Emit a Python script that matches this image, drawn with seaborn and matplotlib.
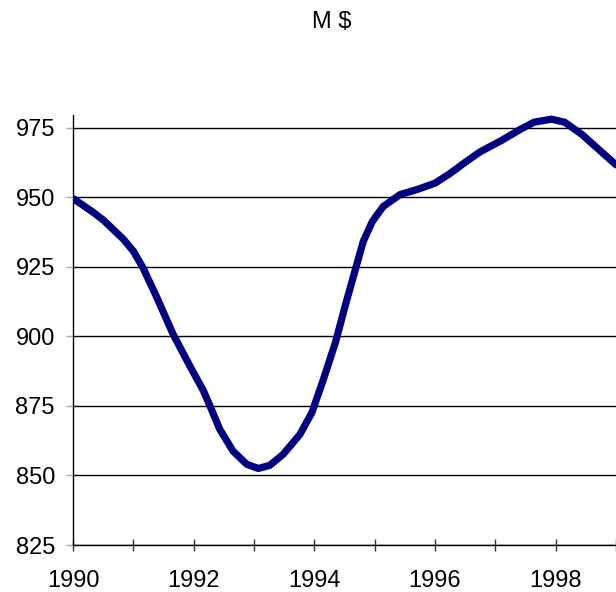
import matplotlib
matplotlib.use("Agg")
import matplotlib.pyplot as plt
import seaborn as sns
import pandas as pd

# points
years = [1990.0, 1990.17, 1990.33, 1990.5, 1990.66, 1990.83, 1991.0, 1991.16,
         1991.38, 1991.66, 1991.94, 1992.16, 1992.27, 1992.43, 1992.65, 1992.88,
         1993.07, 1993.26, 1993.48, 1993.76, 1993.96, 1994.15, 1994.35, 1994.51,
         1994.68, 1994.81, 1994.96, 1995.14, 1995.42, 1995.7, 1996.0, 1996.25,
         1996.5, 1996.75, 1997.09, 1997.42, 1997.64, 1997.93, 1998.15, 1998.43,
         1998.71, 1999.0]
values = [949.5, 947, 944.6, 941.8, 938.5, 935, 930.6, 924.6,
          914.4, 900.7, 889.2, 880.5, 875, 866.7, 858.8, 854,
          852.5, 853.6, 857.5, 864.7, 872.6, 884.5, 897.8, 910.8,
          924, 934, 941.2, 946.6, 950.9, 952.7, 955, 958.5,
          962.5, 966.3, 970.2, 974.4, 976.9, 978, 976.9, 972.6,
          967.2, 961.6]
year_ticks = list(range(1990, 2000))
year_labels = [str(y) if y % 2 == 0 else '' for y in year_ticks]
value_ticks = [825, 850, 875, 900, 925, 950, 975]

df = pd.DataFrame({'year': years, 'value': values})

sns.set_style('white')
plt.rcParams['font.family'] = ['Liberation Sans', 'DejaVu Sans']
plt.rcParams['text.color'] = 'black'
plt.rcParams['xtick.color'] = 'black'
plt.rcParams['ytick.color'] = 'black'

fig = plt.figure(figsize=(6.16, 5.92), dpi=100)
ax = fig.add_axes([73/616, 47/592, 1 - 73/616, (545-115)/592])

sns.lineplot(data=df, x='year', y='value', color='#000080', linewidth=5.2,
             solid_capstyle='round', solid_joinstyle='round', ax=ax, zorder=3)

ax.set_xlim(1990, 1999)
ax.set_ylim(825, 979.5)
ax.set_xticks(year_ticks)
ax.set_xticklabels(year_labels)
ax.set_yticks(value_ticks)
ax.set(xlabel='', ylabel='')
ax.yaxis.grid(True, color='black', linewidth=1)
ax.set_axisbelow(True)

for s in ['top', 'right']:
    ax.spines[s].set_visible(False)
for s in ['left', 'bottom']:
    ax.spines[s].set_color('black')
    ax.spines[s].set_linewidth(1)

ax.tick_params(axis='x', direction='inout', length=8, width=1, color='#333333',
               labelsize=17, labelcolor='black', pad=14, bottom=True)
ax.tick_params(axis='y', direction='out', length=5, width=1, color='#aaaaaa',
               labelsize=17, labelcolor='black', pad=8, left=True)

fig.text(332/616, 1 - 22/592, 'M $', ha='center', va='center', fontsize=17,
         color='black')

fig.savefig('out.png', dpi=100)
